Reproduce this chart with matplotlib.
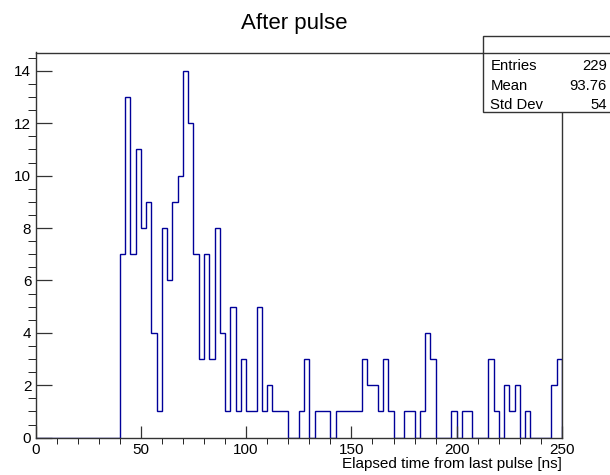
import numpy as np
import matplotlib.pyplot as plt
from matplotlib.patches import Rectangle
from matplotlib.lines import Line2D

plt.rcParams['font.family'] = ['Liberation Sans', 'DejaVu Sans']

# histogram: 100 bins of 2.5 ns from 0 to 250
x_min, x_max, n_bins = 0, 250, 100
counts = [0] * 16 + [
    7, 13, 7, 11, 8, 9, 4, 1, 8, 6, 9, 10, 14, 12, 7, 3, 7,        # 40 - 82.5
    3, 8, 4, 1, 5, 1, 3, 1, 1, 5, 1, 2, 1, 1, 1, 0, 0,             # 82.5 - 125
    1, 3, 0, 1, 1, 1, 0, 1, 1, 1, 1, 1, 3, 2, 2, 1, 3, 1, 0, 0,
    1, 1, 0, 1,                                                    # 125 - 185
    4, 3, 0, 0, 0, 1, 0, 1, 1, 0, 0, 0, 3, 1, 0, 2, 1, 2, 0, 1,
    0, 0, 0, 0, 2, 3,                                              # 185 - 250
]
stat_names = ["Entries", "Mean", "Std Dev"]
stat_values = ["229", "93.76", "54"]

W, H = 610, 475
fig = plt.figure(figsize=(W / 100, H / 100), dpi=100)
ax = fig.add_axes([35.5 / W, 1 - 437.7 / H, (562 - 35.5) / W, (437.7 - 52.5) / H])

edges = np.linspace(x_min, x_max, n_bins + 1)
ax.stairs(counts, edges, baseline=0, color="#000099", linewidth=1.0)

ax.set_xlim(x_min, x_max)
ax.set_ylim(0, 14.7)
ax.set_xticks(np.arange(0, 251, 50))
ax.set_xticks(np.arange(0, 251, 10), minor=True)
ax.set_yticks(np.arange(0, 15, 2))
ax.set_yticks(np.arange(0, 14.7, 0.5), minor=True)
ax.tick_params(direction="in", labelsize=11, width=0.9, color="#333333")
ax.tick_params(axis="x", which="major", length=8.6, pad=4)
ax.tick_params(axis="x", which="minor", length=4.3)
ax.tick_params(axis="y", which="major", length=11.5, pad=3)
ax.tick_params(axis="y", which="minor", length=6)
for s in ax.spines.values():
    s.set_linewidth(1.0)
    s.set_color("#333333")

fig.text(294.5 / W, 1 - 29 / H, "After pulse", ha="center", va="baseline", fontsize=16)
fig.text(562 / W, 1 - 468.3 / H, "Elapsed time from last pulse [ns]",
         ha="right", va="baseline", fontsize=11)

# stats box
fig.patches.append(Rectangle((483.3 / W, 1 - 111.7 / H), 140 / W, (111.7 - 36) / H,
                             transform=fig.transFigure, facecolor="white",
                             edgecolor="#333333", linewidth=1.0, clip_on=False))
fig.lines.append(Line2D([483.3 / W, 1.0], [1 - 53.3 / H, 1 - 53.3 / H],
                        transform=fig.transFigure, color="#333333", linewidth=1.0))
for name, val, yb in zip(stat_names, stat_values, [70, 89.5, 109]):
    fig.text(490.5 / W, 1 - yb / H, name, ha="left", va="baseline", fontsize=10.7)
    fig.text(607 / W, 1 - yb / H, val, ha="right", va="baseline", fontsize=10.7)

fig.savefig("out.png", dpi=100)
